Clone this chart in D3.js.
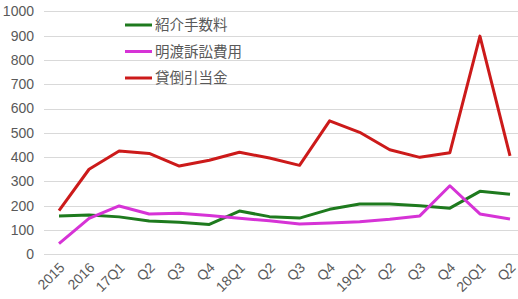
<!DOCTYPE html>
<html>
<head>
<meta charset="utf-8">
<script src="https://cdn.jsdelivr.net/npm/d3@7"></script>
<style>
  body { margin: 0; background: #fff; }
  text { font-family: "Liberation Sans", Arial, sans-serif; fill: #595959; }
  .legend text { font-family: "Noto Sans CJK JP", sans-serif; }
</style>
</head>
<body>
<div id="chart"></div>
<script>
// categories along x (tick labels), series values
var periods = ['2015', '2016', '17Q1', 'Q2', 'Q3', 'Q4', '18Q1', 'Q2', 'Q3', 'Q4',
  '19Q1', 'Q2', 'Q3', 'Q4', '20Q1', 'Q2'];
var yTicks = [0, 100, 200, 300, 400, 500, 600, 700, 800, 900, 1000];

var shokaiTesuryo = [158, 162, 154, 137, 132, 123, 178, 155, 149, 185, 207, 207, 200, 190, 259, 247];
var akewatashiSosho = [44, 148, 199, 166, 169, 160, 148, 138, 125, 129, 134, 144, 158, 282, 166, 145];
var kashidaoreHikiate = [180, 350, 425, 415, 363, 387, 420, 396, 366, 549, 502, 430, 399, 418, 898, 405];

var seriesNames = ['紹介手数料', '明渡訴訟費用', '貸倒引当金'];
var seriesColors = ['#1e7a1e', '#d633d6', '#cc1a1a'];

var series = [shokaiTesuryo, akewatashiSosho, kashidaoreHikiate].map(function (vals, i) {
  return { name: seriesNames[i], color: seriesColors[i], values: vals };
});

var width = 518, height = 299;
var margin = { top: 11.3, left: 44, right: 0, bottom: 44.7 };

var svg = d3.select('#chart').append('svg')
  .attr('width', width)
  .attr('height', height);

var x = d3.scalePoint()
  .domain(d3.range(periods.length))
  .range([59, 510]);

var y = d3.scaleLinear()
  .domain([0, 1000])
  .range([height - margin.bottom, margin.top]);

// horizontal gridlines + y labels
var yAxis = d3.axisLeft(y)
  .tickValues(yTicks)
  .tickSize(-(width - margin.left))
  .tickPadding(10)
  .tickFormat(d3.format('d'));

var gy = svg.append('g')
  .attr('transform', 'translate(' + margin.left + ',0)')
  .call(yAxis);
gy.select('.domain').remove();
gy.selectAll('line')
  .attr('stroke', '#d9d9d9')
  .attr('stroke-width', 1)
  .attr('shape-rendering', 'crispEdges');
gy.selectAll('text')
  .style('font-size', '14px')
  .attr('fill', '#595959');

// x labels rotated
var gx = svg.append('g');
gx.selectAll('text')
  .data(periods)
  .enter()
  .append('text')
  .attr('text-anchor', 'end')
  .attr('transform', function (d, i) {
    return 'translate(' + (x(i) + 3) + ',' + 265 + ') rotate(-45)';
  })
  .attr('dy', '0.35em')
  .style('font-size', '14px')
  .text(function (d) { return d; });

// lines
var line = d3.line()
  .x(function (d, i) { return x(i); })
  .y(function (d) { return y(d); });

svg.append('g').selectAll('path')
  .data(series)
  .enter()
  .append('path')
  .attr('d', function (d) { return line(d.values); })
  .attr('fill', 'none')
  .attr('stroke', function (d) { return d.color; })
  .attr('stroke-width', 3)
  .attr('stroke-linejoin', 'round');

// legend
var legend = svg.append('g').attr('class', 'legend');
var rows = legend.selectAll('g')
  .data(series)
  .enter()
  .append('g')
  .attr('transform', function (d, i) { return 'translate(125,' + (25 + i * 26.5) + ')'; });
rows.append('line')
  .attr('x1', 0).attr('x2', 27)
  .attr('stroke', function (d) { return d.color; })
  .attr('stroke-width', 3);
rows.append('text')
  .attr('x', 30)
  .attr('dy', '0.35em')
  .style('font-size', '14.5px')
  .text(function (d) { return d.name; });
</script>
</body>
</html>
